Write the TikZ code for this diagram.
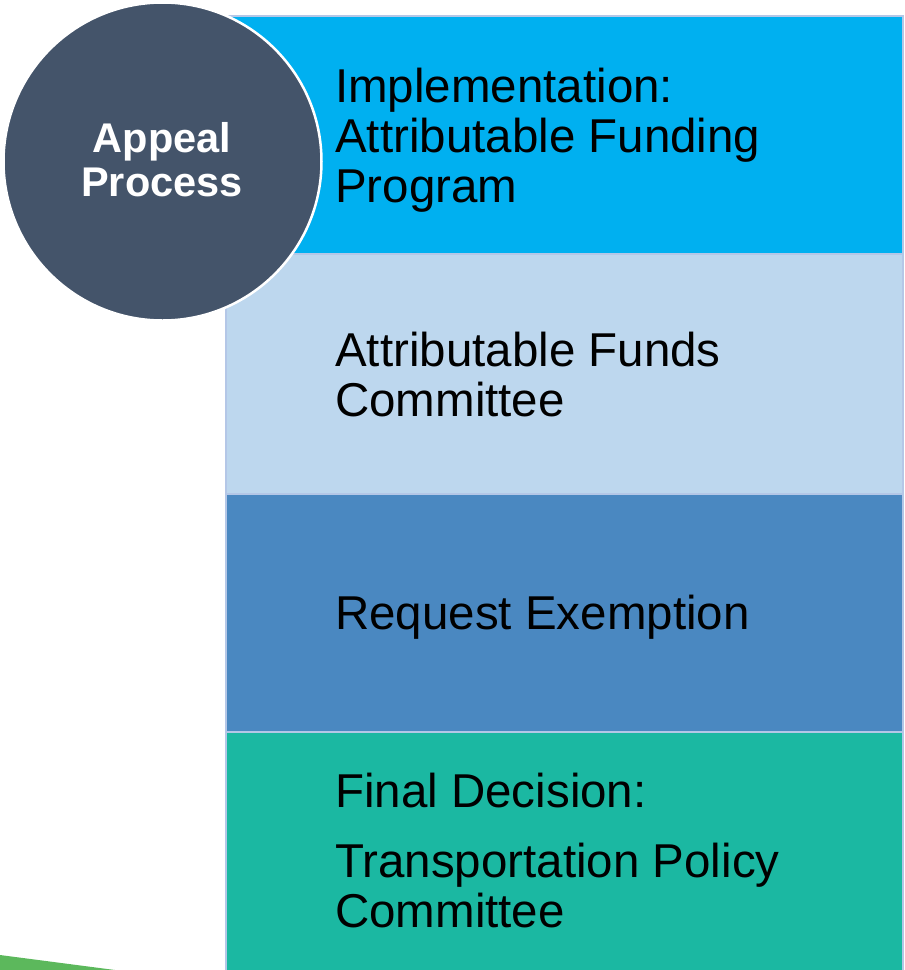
\documentclass[tikz,border=0pt]{standalone}
\usepackage{fontspec}
\setmainfont{Liberation Sans}
\definecolor{cA}{HTML}{00B0F0}
\definecolor{cB}{HTML}{BDD7EE}
\definecolor{cC}{HTML}{4A88C1}
\definecolor{cD}{HTML}{1BB8A2}
\definecolor{cCirc}{HTML}{44546A}
\definecolor{cEdge}{HTML}{B4C7E7}
\definecolor{cGreen}{HTML}{5CB85C}
\begin{document}
\begin{tikzpicture}[x=1pt,y=-1pt,
  band/.style={draw=cEdge,line width=2pt},
  bandtext/.style={anchor=base west,inner sep=0pt,align=left,text=black,
     font=\fontsize{47.5}{50}\selectfont},
  hub/.style={circle,fill=cCirc,draw=white,line width=2.5pt,minimum size=318pt,inner sep=0pt,
     text=white,align=center,font=\fontsize{41.5}{44}\selectfont\bfseries}]
\useasboundingbox (0,0) rectangle (905,970);
\fill[cGreen] (0,955) -- (115,970) -- (0,970) -- cycle;
\draw[band,fill=cA] (226,16) rectangle (903,254);
\draw[band,fill=cB] (226,254) rectangle (903,494);
\draw[band,fill=cC] (226,494) rectangle (903,732);
\draw[band,fill=cD] (226,732) rectangle (903,985);
\node[bandtext] (t1) at (335,202) {Implementation:\\Attributable Funding\\Program};
\node[bandtext] (t2) at (335,416) {Attributable Funds\\Committee};
\node[bandtext] (t3) at (335,629) {Request Exemption};
\node[bandtext] (t4) at (335,927) {Final Decision:\\[20pt]Transportation Policy\\Committee};
\node[hub] (hub) at (162.5,161.5) {};
\node[text=white,align=center,font=\fontsize{41.5}{44}\selectfont\bfseries,inner sep=0pt,anchor=base]
  (hubtext) at (162,196) {Appeal\\Process};
\end{tikzpicture}
\end{document}
